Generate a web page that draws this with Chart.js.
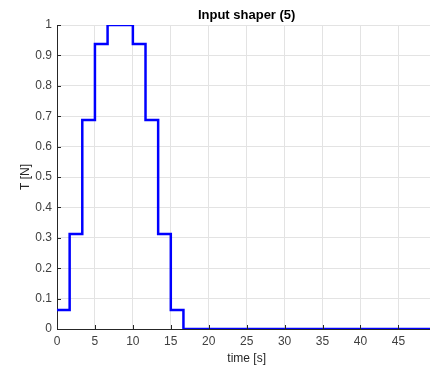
<!DOCTYPE html>
<html>
<head>
<meta charset="utf-8">
<script src="https://cdn.jsdelivr.net/npm/chart.js@4"></script>
<style>
  html, body { margin: 0; padding: 0; background: #fff; overflow: hidden; }
  #wrap { width: 448px; height: 367px; }
</style>
</head>
<body>
<div id="wrap"><canvas id="grafico"></canvas></div>
<script>
// tiempos de los escalones y valores de la fuerza
const tiempos = [0, 1.667, 3.333, 5, 6.667, 8.333, 10, 11.667, 13.333, 15, 16.667, 50];
const fuerza = [0.0625, 0.3125, 0.6875, 0.9375, 1, 1, 0.9375, 0.6875, 0.3125, 0.0625, 0, 0];
const ticksX = [0, 5, 10, 15, 20, 25, 30, 35, 40, 45, 50];

const puntos = tiempos.map((t, i) => ({ x: t, y: fuerza[i] }));

const gris = '#262626';
const fuente = { family: '"Liberation Sans", Arial, sans-serif', size: 12 };
const titulo = 'Input shaper (5)';

// marcas hacia adentro como en matlab, y el titulo centrado sobre los ejes
const decoracion = {
    id: 'decoracion',
    afterDatasetsDraw(chart) {
        const { ctx, chartArea, scales } = chart;
        ctx.save();
        ctx.strokeStyle = gris;
        ctx.lineWidth = 1;
        ctx.beginPath();
        scales.x.ticks.forEach(t => {
            const px = Math.round(scales.x.getPixelForValue(t.value)) + 0.5;
            ctx.moveTo(px, chartArea.bottom);
            ctx.lineTo(px, chartArea.bottom - 4);
        });
        scales.y.ticks.forEach(t => {
            const py = Math.round(scales.y.getPixelForValue(t.value)) + 0.5;
            ctx.moveTo(chartArea.left, py);
            ctx.lineTo(chartArea.left + 4, py);
        });
        ctx.stroke();

        ctx.fillStyle = '#000';
        ctx.font = 'bold 13px ' + fuente.family;
        ctx.textAlign = 'center';
        ctx.textBaseline = 'middle';
        ctx.fillText(titulo, (chartArea.left + chartArea.right) / 2, 15);
        ctx.restore();
    }
};

const ctx = document.getElementById('grafico').getContext('2d');
window.chart = new Chart(ctx, {
    type: 'line',
    data: {
        datasets: [{
            label: 'T',
            data: puntos,
            borderColor: '#0000ff',
            borderWidth: 2.5,
            stepped: true,
            pointRadius: 0,
            fill: false
        }]
    },
    options: {
        responsive: true,
        maintainAspectRatio: false,
        animation: false,
        layout: { padding: { left: 0, right: 6, top: 25, bottom: 0 } },
        plugins: {
            legend: { display: false },
            tooltip: { enabled: false },
            title: { display: false }
        },
        scales: {
            x: {
                type: 'linear',
                min: 0,
                max: 50,
                afterBuildTicks: scale => { scale.ticks = ticksX.map(v => ({ value: v })); },
                afterFit: scale => { scale.height = 38; },
                border: { display: true, color: gris, width: 1 },
                grid: { color: '#e3e3e3', drawTicks: false },
                ticks: { color: '#404040', font: fuente, padding: 5, maxRotation: 0 },
                title: { display: true, text: 'time [s]', color: '#262626', font: fuente, padding: { top: 0, bottom: 1 } }
            },
            y: {
                min: 0,
                max: 1,
                afterFit: scale => { scale.width = 57; },
                border: { display: true, color: gris, width: 1 },
                grid: { color: '#e3e3e3', drawTicks: false },
                ticks: {
                    color: '#404040', font: fuente, padding: 5, stepSize: 0.1,
                    callback: v => String(Math.round(v * 10) / 10)
                },
                title: { display: true, text: 'T [N]', color: '#262626', font: fuente, padding: { top: 18, bottom: 0 } }
            }
        }
    },
    plugins: [decoracion]
});
</script>
</body>
</html>
